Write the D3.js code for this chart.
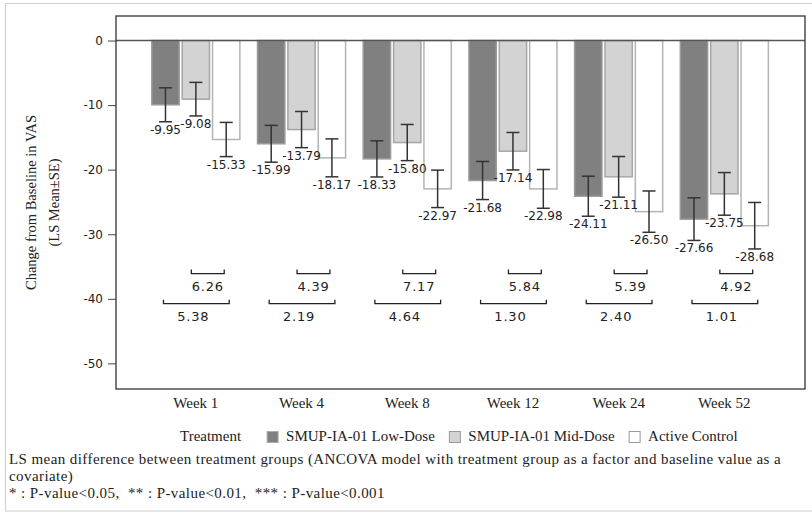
<!DOCTYPE html>
<html>
<head>
<meta charset="utf-8">
<script src="https://cdn.jsdelivr.net/npm/d3@7/dist/d3.min.js"></script>
<style>
  html, body { margin: 0; padding: 0; background: #fff; }
  svg { display: block; }
</style>
</head>
<body>
<svg id="chart" width="812" height="513"></svg>
<script>
// --- data ---
const weeks = ['Week 1', 'Week 4', 'Week 8', 'Week 12', 'Week 24', 'Week 52'];
const seriesNames = ['SMUP-IA-01 Low-Dose', 'SMUP-IA-01 Mid-Dose', 'Active Control'];
const lowMean = [-9.95, -15.99, -18.33, -21.68, -24.11, -27.66];
const midMean = [-9.08, -13.79, -15.80, -17.14, -21.11, -23.75];
const ctrlMean = [-15.33, -18.17, -22.97, -22.98, -26.50, -28.68];
const lowSE = [2.63, 2.85, 2.80, 2.95, 3.10, 3.30];
const midSE = [2.60, 2.80, 2.80, 2.90, 3.15, 3.30];
const ctrlSE = [2.65, 2.94, 2.90, 3.00, 3.20, 3.60];
// LS mean differences: mid vs control (upper), low vs control (lower)
const diffMidCtrl = ['6.26', '4.39', '7.17', '5.84', '5.39', '4.92'];
const diffLowCtrl = ['5.38', '2.19', '4.64', '1.30', '2.40', '1.01'];
const yTicks = [0, -10, -20, -30, -40, -50];
const footnote = [
  'LS mean difference between treatment groups (ANCOVA model with treatment group as a factor and baseline value as a',
  'covariate)',
  '* : P-value<0.05,  ** : P-value<0.01,  *** : P-value<0.001'
];

const fills = ['#808080', '#d3d3d3', '#ffffff'];
const strokes = ['#9a9a9a', '#a6a6a6', '#b4b4b4'];
const sansFont = '"DejaVu Sans", Verdana, sans-serif';
const serifFont = '"Liberation Serif", "Times New Roman", serif';

// plain hyphen for negatives, like the original
const locale = d3.formatLocale({decimal: '.', thousands: ',', grouping: [3], currency: ['', ''], minus: '-'});
const fmt2 = locale.format('.2f');
const fmtInt = locale.format('d');

function translate(x, y) {
    return `translate(${x},${y})`;
}

const means = [lowMean, midMean, ctrlMean];
const ses = [lowSE, midSE, ctrlSE];
const rows = [];
weeks.forEach((w, i) => {
    seriesNames.forEach((s, j) => {
        rows.push({week: w, series: s, si: j, mean: means[j][i], se: ses[j][i]});
    });
});

const svg = d3.select('#chart');

// outer light frame
svg.append('rect')
    .attr('x', 5.5).attr('y', 3.5)
    .attr('width', 830).attr('height', 507.5)
    .attr('fill', 'none')
    .attr('stroke', '#cfcfcf');

const plot = {left: 116, top: 16, right: 805, bottom: 389};

const x = d3.scaleBand()
    .domain(weeks)
    .range([143, 777.2])
    .paddingInner(0.167)
    .paddingOuter(0.0835);

const xs = d3.scaleBand()
    .domain(seriesNames)
    .range([0, x.bandwidth()])
    .paddingInner(0.1);

const y = d3.scaleLinear()
    .domain([-53.97, 3.8])
    .range([plot.bottom, plot.top]);

const barCenter = d => x(d.week) + xs(d.series) + xs.bandwidth() / 2;

// y axis
const yAxis = svg.append('g')
    .attr('transform', translate(plot.left, 0))
    .call(d3.axisLeft(y).tickValues(yTicks).tickSize(8).tickPadding(5).tickFormat(fmtInt));
yAxis.select('.domain').remove();
yAxis.selectAll('line').attr('stroke', '#444');
yAxis.selectAll('text')
    .style('font-family', sansFont)
    .style('font-size', '12px')
    .attr('fill', '#222');

// bars
svg.append('g')
    .selectAll('rect')
    .data(rows)
    .join('rect')
    .attr('x', d => x(d.week) + xs(d.series))
    .attr('y', y(0))
    .attr('width', xs.bandwidth())
    .attr('height', d => y(d.mean) - y(0))
    .attr('fill', d => fills[d.si])
    .attr('stroke', d => strokes[d.si])
    .attr('stroke-width', 1.5);

// zero line
svg.append('line')
    .attr('x1', plot.left).attr('x2', plot.right)
    .attr('y1', y(0)).attr('y2', y(0))
    .attr('stroke', '#555')
    .attr('stroke-width', 1.5);

// error bars
const cap = 6.5;
const eb = svg.append('g')
    .attr('stroke', '#333')
    .attr('stroke-width', 1.5)
    .selectAll('g')
    .data(rows)
    .join('g');
eb.append('line')
    .attr('x1', barCenter).attr('x2', barCenter)
    .attr('y1', d => y(d.mean + d.se)).attr('y2', d => y(d.mean - d.se));
eb.append('line')
    .attr('x1', d => barCenter(d) - cap).attr('x2', d => barCenter(d) + cap)
    .attr('y1', d => y(d.mean + d.se)).attr('y2', d => y(d.mean + d.se));
eb.append('line')
    .attr('x1', d => barCenter(d) - cap).attr('x2', d => barCenter(d) + cap)
    .attr('y1', d => y(d.mean - d.se)).attr('y2', d => y(d.mean - d.se));

// value labels under the error bars
svg.append('g')
    .selectAll('text')
    .data(rows)
    .join('text')
    .attr('x', barCenter)
    .attr('y', d => y(d.mean - d.se) + 12)
    .attr('text-anchor', 'middle')
    .style('font-family', sansFont)
    .style('font-size', '12px')
    .attr('fill', '#222')
    .text(d => fmt2(d.mean));

// difference brackets
const center = (w, s) => x(w) + xs(s) + xs.bandwidth() / 2;
const brackets = [];
weeks.forEach((w, i) => {
    brackets.push({x1: center(w, seriesNames[1]) - 4.5, x2: center(w, seriesNames[2]) - 2,
                   yv: -36.1, label: diffMidCtrl[i], dx: 0});
    brackets.push({x1: center(w, seriesNames[0]) - 2, x2: center(w, seriesNames[2]) + 3,
                   yv: -40.75, label: diffLowCtrl[i], dx: -3});
});
const bg = svg.append('g')
    .selectAll('g')
    .data(brackets)
    .join('g');
bg.append('path')
    .attr('d', d => `M${d.x1},${y(d.yv) - 4}V${y(d.yv)}H${d.x2}V${y(d.yv) - 4}`)
    .attr('fill', 'none')
    .attr('stroke', '#222')
    .attr('stroke-width', 1.3);
bg.append('text')
    .attr('x', d => (d.x1 + d.x2) / 2 + d.dx)
    .attr('y', d => y(d.yv) + 17.5)
    .attr('text-anchor', 'middle')
    .style('font-family', sansFont)
    .style('font-size', '13px')
    .style('letter-spacing', '0.8px')
    .attr('fill', '#222')
    .text(d => d.label);

// plot frame
svg.append('rect')
    .attr('x', plot.left).attr('y', plot.top)
    .attr('width', plot.right - plot.left)
    .attr('height', plot.bottom - plot.top)
    .attr('fill', 'none')
    .attr('stroke', '#333')
    .attr('stroke-width', 1.3);

// x labels
svg.append('g')
    .selectAll('text')
    .data(weeks)
    .join('text')
    .attr('x', d => x(d) + x.bandwidth() / 2)
    .attr('y', 408)
    .attr('text-anchor', 'middle')
    .style('font-family', serifFont)
    .style('font-size', '15px')
    .attr('fill', '#222')
    .text(d => d);

// y title
const yt = svg.append('text')
    .attr('transform', translate(0, (plot.top + plot.bottom) / 2) + ' rotate(-90)')
    .attr('text-anchor', 'middle')
    .style('font-family', serifFont)
    .style('font-size', '14.5px')
    .attr('fill', '#222');
yt.append('tspan').attr('x', 0).attr('y', 36).text('Change from Baseline in VAS');
yt.append('tspan').attr('x', 0).attr('y', 59).text('(LS Mean\u00b1SE)');

// legend
const lg = svg.append('g')
    .style('font-family', serifFont)
    .style('font-size', '15px')
    .attr('fill', '#222');
let lx = 180;
const title = lg.append('text').attr('x', lx).attr('y', 441).text('Treatment');
lx += title.node().getComputedTextLength() + 26;
seriesNames.forEach((s, j) => {
    lg.append('rect')
        .attr('x', lx).attr('y', 431.5)
        .attr('width', 11).attr('height', 11)
        .attr('fill', fills[j])
        .attr('stroke', j === 0 ? '#aaa' : '#999');
    const t = lg.append('text').attr('x', lx + 19).attr('y', 441).text(s);
    lx += 19 + t.node().getComputedTextLength() + 14.5;
});

// footnote
svg.append('g')
    .selectAll('text')
    .data(footnote)
    .join('text')
    .attr('x', 9)
    .attr('y', (d, i) => 464 + i * 17)
    .style('font-family', serifFont)
    .style('font-size', '15px')
    .style('letter-spacing', '0.42px')
    .style('white-space', 'pre')
    .attr('fill', '#222')
    .text(d => d);
</script>
</body>
</html>
